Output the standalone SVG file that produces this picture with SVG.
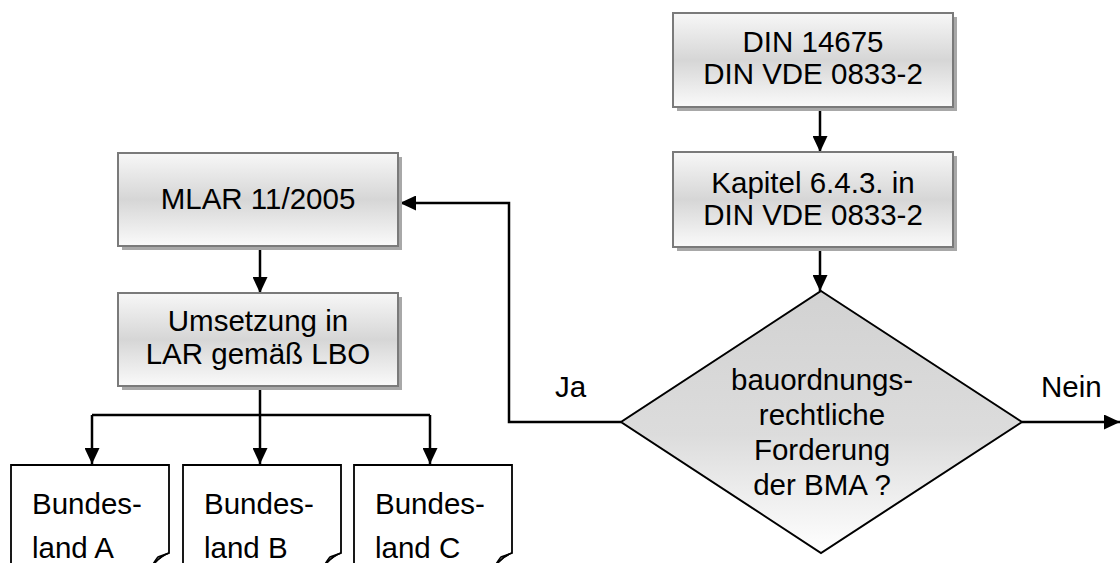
<svg xmlns="http://www.w3.org/2000/svg" width="1120" height="563" viewBox="0 0 1120 563">
<defs>
<linearGradient id="boxGrad" x1="0" y1="0" x2="0" y2="1">
<stop offset="0" stop-color="#f7f7f7"/>
<stop offset="0.5" stop-color="#d6d6d6"/>
<stop offset="1" stop-color="#fafafa"/>
</linearGradient>
<linearGradient id="diaGrad" x1="0" y1="0" x2="0" y2="1">
<stop offset="0" stop-color="#d2d2d2"/>
<stop offset="0.55" stop-color="#dcdcdc"/>
<stop offset="1" stop-color="#ffffff"/>
</linearGradient>
<marker id="arrow" markerUnits="userSpaceOnUse" markerWidth="17" markerHeight="15" refX="16" refY="7.5" orient="auto">
<path d="M0,0 L16,7.5 L0,15 z" fill="#000"/>
</marker>
</defs>
<style>
.box{fill:url(#boxGrad);stroke:#7a7a7a;stroke-width:2}
.shadow{fill:#a8a8a8}
.doc{fill:#fff;stroke:#000;stroke-width:1.8}
.fold{fill:#d0d0d0;stroke:#000;stroke-width:1.5}
.t{font-family:"Liberation Sans",Arial,sans-serif;font-size:29.5px;fill:#000}
.c{text-anchor:middle}
.conn{fill:none;stroke:#000;stroke-width:2.5}
</style>

<g id="connectors">
<path class="conn" d="M820,107 V152" marker-end="url(#arrow)"/>
<path class="conn" d="M820,247 V291" marker-end="url(#arrow)"/>
<path class="conn" d="M260,246 V293" marker-end="url(#arrow)"/>
<path class="conn" d="M260,386 V464" marker-end="url(#arrow)"/>
<path class="conn" d="M92,415 H430"/>
<path class="conn" d="M92,415 V464" marker-end="url(#arrow)"/>
<path class="conn" d="M430,415 V464" marker-end="url(#arrow)"/>
<path class="conn" d="M621,422 H509 V203 H400" marker-end="url(#arrow)"/>
<path class="conn" d="M1022,422 H1120" marker-end="url(#arrow)"/>
<text class="t" x="555" y="397">Ja</text>
<text class="t" x="1041" y="397">Nein</text>
</g>

<g id="din14675">
<rect class="shadow" x="677" y="17" width="280" height="94"/>
<rect class="box" x="673" y="13" width="280" height="94"/>
<text class="t c" x="813" y="52">DIN 14675</text>
<text class="t c" x="813" y="84">DIN VDE 0833-2</text>
</g>

<g id="kapitel">
<rect class="shadow" x="677" y="156" width="280" height="95"/>
<rect class="box" x="673" y="152" width="280" height="95"/>
<text class="t c" x="813" y="193">Kapitel 6.4.3. in</text>
<text class="t c" x="813" y="225">DIN VDE 0833-2</text>
</g>

<g id="mlar">
<rect class="shadow" x="122" y="157" width="280" height="93"/>
<rect class="box" x="118" y="153" width="280" height="93"/>
<text class="t c" x="258" y="209">MLAR 11/2005</text>
</g>

<g id="umsetzung">
<rect class="shadow" x="122" y="297" width="280" height="93"/>
<rect class="box" x="118" y="293" width="280" height="93"/>
<text class="t c" x="258" y="331">Umsetzung in</text>
<text class="t c" x="258" y="364">LAR gemäß LBO</text>
</g>

<g id="decision">
<polygon points="821,291 1022,422 821,553 621,422" fill="url(#diaGrad)" stroke="#000" stroke-width="2"/>
<text class="t c" x="822" y="390">bauordnungs-</text>
<text class="t c" x="822" y="425">rechtliche</text>
<text class="t c" x="822" y="460">Forderung</text>
<text class="t c" x="822" y="495">der BMA ?</text>
</g>

<g id="bundeslandA">
<path class="doc" d="M11,566 V465 H169 V553 Q160,556 152,566"/>
<path class="fold" d="M152,566 Q156,559 158,557 L169,553 Q160,556 152,566 z"/>
<text class="t" x="32" y="514">Bundes-</text>
<text class="t" x="32" y="558">land A</text>
</g>

<g id="bundeslandB">
<path class="doc" d="M183,566 V465 H341 V553 Q332,556 324,566"/>
<path class="fold" d="M324,566 Q328,559 330,557 L341,553 Q332,556 324,566 z"/>
<text class="t" x="204" y="514">Bundes-</text>
<text class="t" x="204" y="558">land B</text>
</g>

<g id="bundeslandC">
<path class="doc" d="M354,566 V465 H512 V553 Q503,556 495,566"/>
<path class="fold" d="M495,566 Q499,559 501,557 L512,553 Q503,556 495,566 z"/>
<text class="t" x="375" y="514">Bundes-</text>
<text class="t" x="375" y="558">land C</text>
</g>
</svg>
